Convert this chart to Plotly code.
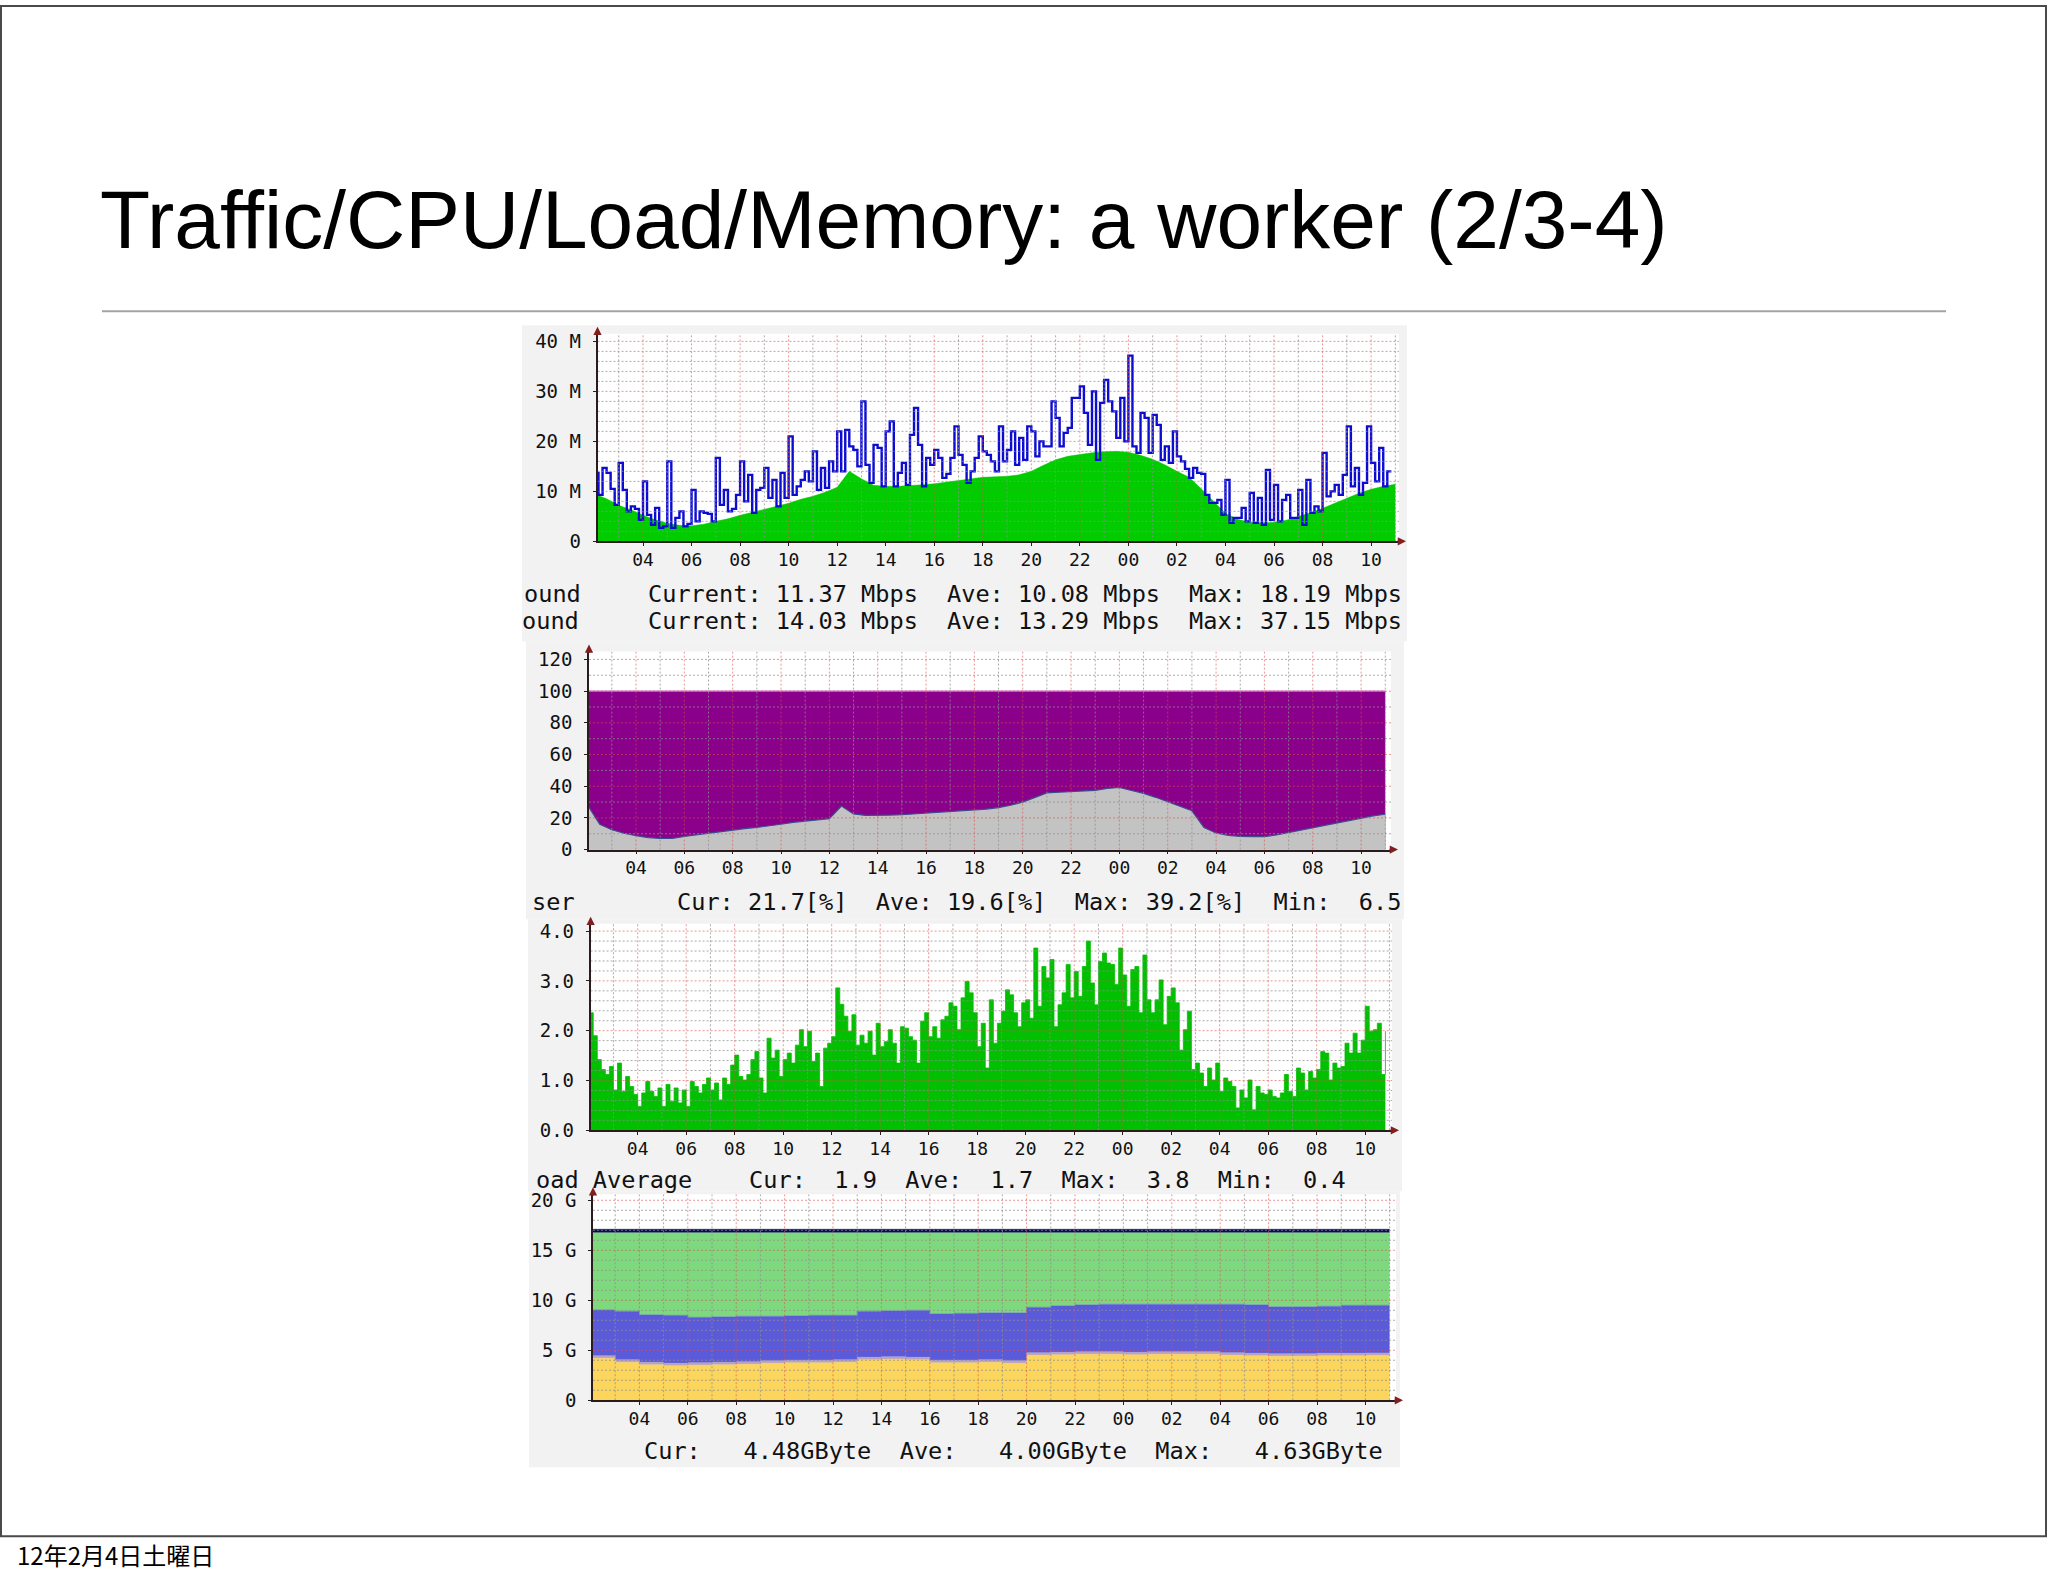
import plotly.graph_objects as go

W, H = 2048, 1576

# ---------------- data ----------------
# time axis, hours counted from 00:00 of the first day
hours_half = [2.0 + 0.5 * i for i in range(67)]
hours_10min = [2.0 + i / 6.0 for i in range(198)]
hours_1h = [2.0 + i for i in range(34)]

time_tick_hours = list(range(4, 35, 2))
time_tick_labels = ["04", "06", "08", "10", "12", "14", "16", "18",
                    "20", "22", "00", "02", "04", "06", "08", "10"]

# Traffic (Mbps)
traffic_in = [9.5, 8.5, 7.2, 6.3, 5.2, 4.3, 3.6, 3.2, 3.1, 3.4, 4.0, 4.5, 5.2, 5.8,
              6.4, 7.0, 7.6, 8.4, 9.0, 9.8, 10.8, 14.0, 12.5, 11.2, 11.0, 11.0, 11.1,
              11.3, 11.5, 11.8, 12.2, 12.5, 12.8, 12.9, 13.0, 13.3, 14.0, 15.2, 16.3,
              17.0, 17.4, 17.7, 17.9, 18.0, 17.8, 17.2, 16.4, 15.3, 14.0, 12.8, 10.5,
              8.0, 5.6, 4.4, 3.8, 3.7, 3.8, 4.2, 4.9, 5.7, 6.6, 7.6, 8.6, 9.6, 10.4,
              11.0, 11.4]
traffic_out = [13.7, 9.3, 14.7, 13.7, 10.5, 7.3, 15.7, 10.3, 6.0, 7.0,
               6.5, 4.3, 12.0, 5.3, 3.3, 6.7, 2.7, 3.0, 16.0, 2.7,
               4.7, 6.0, 3.0, 3.5, 10.3, 4.0, 6.0, 5.7, 5.5, 4.0,
               16.7, 7.3, 10.3, 6.0, 6.5, 9.3, 16.0, 8.0, 13.3, 5.7,
               10.3, 10.7, 14.7, 8.7, 12.3, 7.0, 13.7, 8.7, 21.0, 9.3,
               11.0, 12.3, 14.0, 12.0, 18.0, 10.3, 14.7, 10.7, 16.0, 14.0,
               22.0, 14.0, 22.3, 19.0, 18.3, 15.0, 28.0, 15.3, 11.7, 19.3,
               18.7, 11.0, 22.0, 24.0, 11.0, 13.7, 15.7, 11.3, 21.3, 26.7,
               19.3, 11.0, 16.7, 15.3, 18.3, 16.7, 12.7, 13.5, 16.7, 23.0,
               17.3, 15.3, 11.7, 14.0, 16.7, 21.0, 18.0, 17.3, 16.0, 14.0,
               23.0, 16.0, 18.3, 22.0, 15.3, 20.7, 16.3, 23.0, 22.0, 17.0,
               20.0, 19.0, 19.0, 28.0, 24.7, 19.0, 21.7, 22.7, 28.7, 28.7,
               31.0, 25.7, 19.3, 30.0, 16.3, 27.7, 32.3, 28.0, 26.0, 20.7,
               28.7, 20.0, 37.15, 19.0, 17.7, 25.7, 24.7, 17.7, 25.3, 23.3,
               16.3, 19.0, 15.7, 22.0, 17.0, 16.0, 14.5, 12.7, 14.7, 13.7,
               13.5, 9.3, 7.7, 7.7, 8.3, 5.3, 12.3, 3.7, 4.7, 4.7,
               6.7, 4.0, 9.7, 3.7, 8.7, 3.3, 14.3, 4.3, 11.3, 4.0,
               8.3, 9.3, 4.7, 4.7, 10.3, 3.3, 12.3, 5.7, 7.0, 6.0,
               17.7, 9.0, 10.0, 11.3, 9.3, 13.3, 23.0, 11.0, 14.7, 9.3,
               11.7, 23.0, 15.7, 12.0, 18.7, 11.0, 14.0, 14.0]
traffic_ticks = [0, 10, 20, 30, 40]
traffic_tick_labels = ["0", "10 M", "20 M", "30 M", "40 M"]

# CPU (%)
cpu_user = [28.0, 16.0, 12.5, 10.3, 8.8, 7.6, 7.0, 7.0, 8.3, 9.3, 10.4, 11.5, 12.5,
            13.3, 14.0, 14.8, 16.0, 17.2, 18.0, 18.4, 19.5, 27.5, 22.5, 21.6, 21.5,
            21.8, 22.0, 22.5, 23.0, 23.6, 24.2, 24.7, 25.1, 25.6, 26.5, 28.0, 30.0,
            33.0, 35.8, 36.2, 36.5, 36.8, 37.4, 38.6, 39.2, 37.3, 35.5, 33.0, 30.0,
            27.5, 24.5, 14.0, 10.5, 9.0, 8.3, 8.2, 8.2, 9.3, 10.8, 12.2, 13.6, 15.0,
            16.5, 18.2, 19.8, 21.3, 22.3]
cpu_total = [100.0] * len(hours_half)
cpu_ticks = [0, 20, 40, 60, 80, 100, 120]
cpu_tick_labels = ["0", "20", "40", "60", "80", "100", "120"]

# Load average
load_avg = [2.36, 1.9, 1.42, 1.22, 1.12, 1.28, 0.81, 1.35, 0.78, 1.08,
            0.88, 0.72, 0.48, 0.75, 0.98, 0.78, 0.68, 0.85, 0.48, 0.92,
            0.58, 0.85, 0.55, 0.81, 0.48, 0.98, 0.88, 0.75, 0.92, 1.05,
            0.81, 0.95, 0.61, 1.05, 0.92, 1.31, 1.51, 1.08, 1.01, 1.12,
            1.42, 1.58, 1.05, 0.75, 1.85, 1.45, 1.61, 1.08, 1.42, 1.55,
            1.35, 1.71, 2.02, 1.68, 1.99, 1.38, 1.55, 0.88, 1.65, 1.75,
            1.88, 2.86, 2.53, 2.29, 1.99, 2.32, 1.71, 1.91, 1.75, 1.99,
            1.51, 2.15, 1.68, 1.78, 2.02, 1.75, 1.35, 2.08, 2.05, 1.88,
            1.81, 1.35, 2.19, 2.36, 1.88, 2.08, 1.85, 2.22, 2.29, 2.56,
            2.49, 2.02, 2.66, 2.99, 2.76, 2.36, 1.68, 2.15, 1.25, 2.62,
            1.75, 2.15, 2.39, 2.82, 2.72, 2.36, 2.08, 2.56, 2.62, 2.25,
            3.66, 2.49, 3.29, 3.06, 3.43, 2.08, 2.52, 2.76, 3.33, 2.66,
            3.19, 2.69, 3.29, 3.80, 2.96, 2.52, 3.39, 3.56, 3.36, 3.33,
            2.93, 3.66, 3.12, 2.49, 3.23, 3.29, 2.36, 3.52, 2.62, 2.36,
            2.62, 3.02, 2.12, 2.69, 2.86, 2.56, 1.61, 2.02, 2.39, 1.22,
            1.35, 1.15, 0.88, 1.25, 1.01, 1.35, 0.78, 1.05, 0.98, 0.88,
            0.45, 0.81, 0.65, 1.01, 0.41, 0.88, 0.75, 0.72, 0.81, 0.68,
            0.65, 0.75, 1.12, 0.78, 0.68, 1.25, 1.15, 0.81, 1.18, 1.05,
            1.22, 1.58, 1.55, 1.01, 1.35, 1.25, 1.28, 1.75, 1.55, 1.95,
            1.55, 1.81, 2.49, 1.99, 2.02, 2.15, 1.12, 1.99]
load_ticks = [0, 1, 2, 3, 4]
load_tick_labels = ["0.0", "1.0", "2.0", "3.0", "4.0"]

# Memory (GByte), stacked layers
mem_used = [4.2, 3.8, 3.55, 3.45, 3.5, 3.55, 3.6, 3.7, 3.75, 3.75, 3.8, 4.05, 4.1,
            4.05, 3.75, 3.75, 3.8, 3.7, 4.5, 4.55, 4.6, 4.6, 4.55, 4.6, 4.6, 4.6,
            4.5, 4.45, 4.4, 4.4, 4.45, 4.45, 4.48, 4.48]
mem_buffers = [0.25, 0.25, 0.25, 0.25, 0.25, 0.25, 0.25, 0.25, 0.25, 0.25, 0.25,
               0.25, 0.25, 0.25, 0.25, 0.25, 0.25, 0.25, 0.25, 0.25, 0.25, 0.25,
               0.25, 0.25, 0.25, 0.25, 0.25, 0.25, 0.25, 0.25, 0.25, 0.25, 0.25, 0.25]
mem_cached = [4.6, 4.85, 4.75, 4.8, 4.55, 4.55, 4.55, 4.45, 4.45, 4.5, 4.45, 4.6,
              4.6, 4.7, 4.65, 4.7, 4.7, 4.8, 4.55, 4.65, 4.7, 4.75, 4.8, 4.75, 4.75,
              4.75, 4.85, 4.85, 4.7, 4.7, 4.7, 4.8, 4.77, 4.77]
mem_free = [7.7, 7.85, 8.2, 8.25, 8.45, 8.4, 8.35, 8.35, 8.3, 8.25, 8.25, 7.85, 7.8,
            7.75, 8.1, 8.05, 8.0, 8.0, 7.45, 7.3, 7.2, 7.15, 7.15, 7.15, 7.15, 7.15,
            7.15, 7.2, 7.4, 7.4, 7.35, 7.25, 7.25, 7.25]
mem_swap = [0.35] * len(hours_1h)
mem_ticks = [0, 5, 10, 15, 20]
mem_tick_labels = ["0", "5 G", "10 G", "15 G", "20 G"]

# ---------------- layout helpers ----------------
# the photographed page comes out slightly squeezed vertically; these two numbers
# undo that so that page positions land where intended in the picture
CAP_A, CAP_B = 3.6, 0.98995


def fx(px):
    return px / W


def fy(py):
    return 1 - ((py - CAP_A) / CAP_B) / H


MONO = "DejaVu Sans Mono"
GRID_MINOR = "rgba(143,143,143,0.75)"
GRID_MAJOR = "rgba(222,79,79,0.6)"
AXIS = "#2a1c1c"
ARROW = "#801f1f"

# pixel geometry of each graph: left/right px, y=0 px, top value, px per unit,
# px of the first "04" tick, px per hour
panels = [
    dict(left=597.5, right=1399, bottom=540, ytop=41.5, ppu=5.0, t04=643, pph=24.27,
         yticks=traffic_ticks, ylabels=traffic_tick_labels, yminor=2.0),
    dict(left=589, right=1391, bottom=848.3, ytop=125, ppu=1.585, t04=636, pph=24.17,
         yticks=cpu_ticks, ylabels=cpu_tick_labels, yminor=10.0),
    dict(left=590.6, right=1392, bottom=1129, ytop=4.15, ppu=49.8, t04=637.7, pph=24.25,
         yticks=load_ticks, ylabels=load_tick_labels, yminor=0.2),
    dict(left=593, right=1396, bottom=1399, ytop=20.6, ppu=10.0, t04=639.4, pph=24.2,
         yticks=mem_ticks, ylabels=mem_tick_labels, yminor=1.0),
]

fig = go.Figure()
layout_axes = {}
for k, p in enumerate(panels, start=1):
    xr = [4 - (p["t04"] - p["left"]) / p["pph"], 4 + (p["right"] - p["t04"]) / p["pph"]]
    top_px = p["bottom"] - p["ytop"] * p["ppu"]
    p["xr"] = xr
    p["top_px"] = top_px
    sfx = "" if k == 1 else str(k)
    layout_axes["xaxis" + sfx] = dict(
        domain=[fx(p["left"]), fx(p["right"])], range=xr, anchor="y" + sfx,
        tickmode="array", tickvals=time_tick_hours, ticktext=time_tick_labels,
        showgrid=False, zeroline=False, showline=True, linecolor=AXIS, linewidth=1.5,
        ticks="outside", ticklen=3, tickcolor=AXIS, ticklabelstandoff=-2,
        tickfont=dict(family=MONO, size=18, color="#111"), fixedrange=True,
    )
    layout_axes["yaxis" + sfx] = dict(
        domain=[fy(p["bottom"]), fy(top_px)], range=[0, p["ytop"]], anchor="x" + sfx,
        tickmode="array", tickvals=p["yticks"], ticktext=p["ylabels"],
        showgrid=False, zeroline=False, showline=True, linecolor=AXIS, linewidth=1.5,
        ticks="outside", ticklen=3, tickcolor=AXIS, ticklabelstandoff=8,
        tickfont=dict(family=MONO, size=19, color="#111"), fixedrange=True,
    )


def axes_of(k):
    return ("x" if k == 1 else "x%d" % k), ("y" if k == 1 else "y%d" % k)


# ---------------- data traces ----------------
xa, ya = axes_of(1)
fig.add_trace(go.Scatter(x=hours_half, y=traffic_in, mode="lines", fill="tozeroy",
                         fillcolor="#00cc00", line=dict(color="#00cc00", width=0.5),
                         xaxis=xa, yaxis=ya, hoverinfo="skip", showlegend=False))
fig.add_trace(go.Scatter(x=hours_10min, y=traffic_out, mode="lines",
                         line=dict(color="#0c0cd0", width=2.4, shape="hv"),
                         xaxis=xa, yaxis=ya, hoverinfo="skip", showlegend=False))

xa, ya = axes_of(2)
fig.add_trace(go.Scatter(x=hours_half, y=cpu_total, mode="lines", fill="tozeroy",
                         fillcolor="#8a008a", line=dict(color="#c060c0", width=1.5),
                         xaxis=xa, yaxis=ya, hoverinfo="skip", showlegend=False))
fig.add_trace(go.Scatter(x=hours_half, y=cpu_user, mode="lines", fill="tozeroy",
                         fillcolor="#c3c3c3", line=dict(color="#3c4c8c", width=1.2),
                         xaxis=xa, yaxis=ya, hoverinfo="skip", showlegend=False))

xa, ya = axes_of(3)
fig.add_trace(go.Scatter(x=hours_10min, y=load_avg, mode="lines", fill="tozeroy",
                         fillcolor="#00c000", line=dict(color="#00c000", width=0.8, shape="hv"),
                         xaxis=xa, yaxis=ya, hoverinfo="skip", showlegend=False))

xa, ya = axes_of(4)
for vals, col in [(mem_used, "#fbd55c"), (mem_buffers, "#b8a2c4"),
                  (mem_cached, "#5b5bd9"), (mem_free, "#7ed97e"), (mem_swap, "#0a0a5c")]:
    fig.add_trace(go.Scatter(x=hours_1h, y=vals, mode="lines", stackgroup="mem",
                             fillcolor=col, line=dict(color=col, width=0.5, shape="hv"),
                             xaxis=xa, yaxis=ya, hoverinfo="skip", showlegend=False))


# ---------------- grid drawn above the data (as rrdtool does) ----------------
def frange(a, b, step):
    out, v = [], a
    while v <= b + 1e-9:
        out.append(round(v, 6))
        v += step
    return out


for k, p in enumerate(panels, start=1):
    xa, ya = axes_of(k)
    x0, x1 = p["xr"]
    ytop = p["ytop"]
    major_x = [v for v in time_tick_hours if x0 < v < x1]
    minor_x = [v for v in range(3, 36) if x0 < v < x1 and v not in time_tick_hours]
    major_y = [v for v in p["yticks"] if 0 < v <= ytop]
    minor_y = [v for v in frange(p["yminor"], ytop, p["yminor"])
               if all(abs(v - m) > 1e-6 for m in p["yticks"]) and v < ytop]
    for xs_list, ys_list, col in [(minor_x, minor_y, GRID_MINOR), (major_x, major_y, GRID_MAJOR)]:
        gx, gy = [], []
        for v in xs_list:
            gx += [v, v, None]
            gy += [0, ytop, None]
        for v in ys_list:
            gx += [x0, x1, None]
            gy += [v, v, None]
        fig.add_trace(go.Scatter(x=gx, y=gy, mode="lines",
                                 line=dict(color=col, width=1, dash="2px,2px"),
                                 xaxis=xa, yaxis=ya, hoverinfo="skip", showlegend=False))

# ---------------- shapes: slide frame, rule, graph backgrounds ----------------
shapes = [
    dict(type="rect", xref="paper", yref="paper", x0=fx(1), x1=fx(2046), y0=fy(1535),
         y1=min(fy(4.5), 1 - 1.0 / H),
         line=dict(color="#4a4a4a", width=2), fillcolor="rgba(0,0,0,0)", layer="below"),
    dict(type="line", xref="paper", yref="paper", x0=fx(102), x1=fx(1946), y0=fy(310), y1=fy(310),
         line=dict(color="#a3a3a3", width=2), layer="below"),
]
for (l, r, t, b) in [(522, 1407, 324, 640), (526, 1404, 640, 918),
                     (528, 1402, 918, 1190), (529, 1400, 1190, 1466)]:
    shapes.append(dict(type="rect", xref="paper", yref="paper", x0=fx(l), x1=fx(r),
                       y0=fy(b), y1=fy(t), line=dict(width=0), fillcolor="#f2f2f2", layer="below"))
for k in range(1, 5):
    xa, ya = axes_of(k)
    shapes.append(dict(type="rect", xref=xa + " domain", yref=ya + " domain", x0=0, x1=1, y0=0, y1=1,
                       line=dict(width=0), fillcolor="#ffffff", layer="below"))

# ---------------- annotations ----------------
ann = [
    dict(text="Traffic/CPU/Load/Memory: a worker (2/3-4)", x=fx(98), y=fy(218),
         xanchor="left", yanchor="middle",
         font=dict(family="Liberation Sans, Arial, Helvetica", size=82, color="#000")),
    dict(text="12年2月4日土曜日", x=fx(15), y=fy(1553), xanchor="left", yanchor="middle",
         font=dict(family="Noto Sans CJK JP", size=24, color="#000")),
]
legend_rows = [
    ("ound", 522, 593), ("Current: 11.37 Mbps", 646, 593), ("Ave: 10.08 Mbps", 945, 593),
    ("Max: 18.19 Mbps", 1187, 593),
    ("ound", 520, 620), ("Current: 14.03 Mbps", 646, 620), ("Ave: 13.29 Mbps", 945, 620),
    ("Max: 37.15 Mbps", 1187, 620),
    ("ser", 530, 901), ("Cur: 21.7[%]  Ave: 19.6[%]  Max: 39.2[%]  Min:  6.5", 675, 901),
    ("oad Average    Cur:  1.9  Ave:  1.7  Max:  3.8  Min:  0.4", 534, 1179),
    ("Cur:   4.48GByte  Ave:   4.00GByte  Max:   4.63GByte", 642, 1450),
]
for txt, px, py in legend_rows:
    ann.append(dict(text=txt, x=fx(px), y=fy(py), xanchor="left", yanchor="middle",
                    font=dict(family=MONO, size=23.6, color="#111")))

# axis arrows
for p in panels:
    ann.append(dict(text="", x=fx(p["right"] + 7), y=fy(p["bottom"]), ax=-10, ay=0,
                    showarrow=True, arrowhead=2, arrowsize=1.1, arrowwidth=1.5, arrowcolor=ARROW))
    ann.append(dict(text="", x=fx(p["left"]), y=fy(p["top_px"] - 7), ax=0, ay=10,
                    showarrow=True, arrowhead=2, arrowsize=1.1, arrowwidth=1.5, arrowcolor=ARROW))
for a in ann:
    a.setdefault("xref", "paper")
    a.setdefault("yref", "paper")
    a.setdefault("showarrow", False)

fig.update_layout(
    width=W, height=H, autosize=False,
    margin=dict(l=0, r=0, t=0, b=0),
    paper_bgcolor="#ffffff", plot_bgcolor="#ffffff",
    showlegend=False, shapes=shapes, annotations=ann,
    **layout_axes,
)

PIN_TO_WINDOW = (
    "document.documentElement.style.margin='0';"
    "document.body.style.margin='0';"
    "document.documentElement.style.overflow='hidden';"
    "document.body.style.overflow='hidden';"
    "var gd=document.getElementById('{plot_id}');"
    "gd.style.position='fixed';gd.style.left='0px';gd.style.top='0px';"
)

fig.write_html("out.html", config={"displayModeBar": False}, post_script=PIN_TO_WINDOW)
